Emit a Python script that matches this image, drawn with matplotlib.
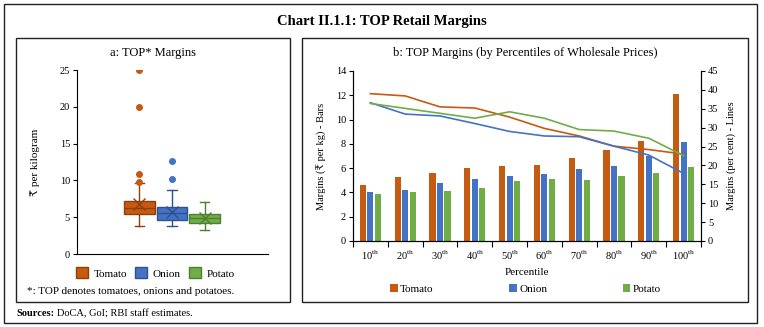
import matplotlib
matplotlib.use("Agg")
from matplotlib import pyplot as plt
from matplotlib.patches import Rectangle, Patch
import numpy as np

plt.rcParams['font.family'] = ['Liberation Serif', 'DejaVu Serif', 'DejaVu Sans']
plt.rcParams['font.size'] = 7.5
plt.rcParams['mathtext.fontset'] = 'custom'
plt.rcParams['mathtext.rm'] = 'Liberation Serif'

crops = ["Tomato", "Onion", "Potato"]
fills = ["#C55A11", "#4472C4", "#70AD47"]
edges = ["#8E3F0B", "#2F528F", "#507E32"]

# panel a: box plot summary (Rs per kg)
box_q1 = [5.5, 4.6, 4.2]
box_med = [6.2, 5.55, 4.85]
box_q3 = [7.2, 6.35, 5.45]
box_lo = [3.85, 3.85, 3.25]
box_hi = [9.6, 8.7, 7.0]
box_mean = [6.8, 5.7, 4.85]
box_out = [[9.8, 10.9, 20.0, 25.0], [10.2, 12.6], []]

# panel b: margins by percentile of wholesale prices
pct = ["10", "20", "30", "40", "50", "60", "70", "80", "90", "100"]
bar_tomato = [4.6, 5.25, 5.57, 6.0, 6.2, 6.23, 6.8, 7.5, 8.24, 12.13]
bar_onion = [4.0, 4.2, 4.8, 5.13, 5.35, 5.5, 5.96, 6.2, 7.0, 8.13]
bar_potato = [3.85, 4.06, 4.15, 4.4, 4.97, 5.08, 5.0, 5.33, 5.63, 6.07]
line_tomato = [39.0, 38.4, 35.5, 35.2, 32.8, 29.8, 27.8, 25.1, 24.2, 23.0]
line_onion = [36.6, 33.6, 33.1, 31.1, 29.0, 27.8, 27.6, 25.1, 22.75, 17.9]
line_potato = [36.4, 35.1, 33.8, 32.5, 34.2, 32.5, 29.5, 29.1, 27.2, 22.6]

W, H = 764, 327
fig = plt.figure(figsize=(W / 100, H / 100), dpi=100)

def fx(x):
    return x / W

def fy(y):
    return 1 - y / H

def frame(x0, y0, x1, y1):
    fig.add_artist(Rectangle((fx(x0), fy(y1)), fx(x1 - x0), (y1 - y0) / H,
                             transform=fig.transFigure, fill=False,
                             edgecolor="#222222", linewidth=1.0))

frame(4, 4, 757, 323)
frame(16, 38, 290, 302)
frame(302, 38, 748, 302)

fig.text(fx(382), fy(21), "Chart II.1.1: TOP Retail Margins", ha="center",
         va="center", fontsize=10.5, fontweight="bold")
fig.text(fx(153), fy(53), "a: TOP* Margins", ha="center", va="center", fontsize=9)
fig.text(fx(525), fy(53), "b: TOP Margins (by Percentiles of Wholesale Prices)",
         ha="center", va="center", fontsize=9)

# ---- panel a
axa = fig.add_axes([fx(77), fy(254), fx(268 - 77), (254 - 70) / H])
stats = []
for i in range(3):
    stats.append(dict(q1=box_q1[i], med=box_med[i], q3=box_q3[i],
                      whislo=box_lo[i], whishi=box_hi[i], mean=box_mean[i],
                      fliers=box_out[i], label=crops[i]))
pos = [-1, 0, 1]
for i in range(3):
    axa.bxp([stats[i]], positions=[pos[i]], widths=0.93, patch_artist=True,
            showmeans=True, meanline=False, capwidths=0.3,
            boxprops=dict(facecolor=fills[i], edgecolor=edges[i], linewidth=1.0),
            medianprops=dict(color=edges[i], linewidth=1.0),
            whiskerprops=dict(color=edges[i], linewidth=1.0),
            capprops=dict(color=edges[i], linewidth=1.0),
            meanprops=dict(marker="x", markeredgecolor=edges[i], markersize=8,
                           markeredgewidth=1.0),
            flierprops=dict(marker="o", markerfacecolor=fills[i],
                            markeredgecolor=fills[i], markersize=4))
axa.set_xlim(-2.92, 2.95)
axa.set_ylim(0, 25)
axa.set_yticks([0, 5, 10, 15, 20, 25])
axa.set_xticks([])
axa.spines[["top", "right"]].set_visible(False)
axa.tick_params(axis="y", direction="out", length=3, width=0.8, pad=2)
axa.set_ylabel("₹ per kilogram", fontsize=8)
axa.yaxis.set_label_coords((40 - 77) / (268 - 77), 0.5)
axa.legend(handles=[Patch(facecolor=fills[i], edgecolor=edges[i], label=crops[i])
                    for i in range(3)],
           loc="center left", bbox_to_anchor=(fx(76), fy(273)),
           bbox_transform=fig.transFigure, ncol=3, frameon=False,
           handlelength=1.1, handleheight=1.1, handletextpad=0.5,
           columnspacing=0.7, borderaxespad=0, borderpad=0, fontsize=8)
fig.text(fx(27), fy(292), "*: TOP denotes tomatoes, onions and potatoes.",
         ha="left", va="center", fontsize=8)
src = fig.text(fx(16), fy(314), "Sources:", ha="left", va="center",
               fontweight="bold", fontsize=7.5)
fig.canvas.draw()
bb = src.get_window_extent()
fig.text(fx(bb.x1 + 3), fy(314), "DoCA, GoI; RBI staff estimates.", ha="left",
         va="center", fontsize=7.5)

# ---- panel b
axb = fig.add_axes([fx(353), fy(241), fx(701 - 353), (241 - 71) / H])
x = np.arange(len(pct))
bw = 0.175
step = 0.215
for k, vals in enumerate([bar_tomato, bar_onion, bar_potato]):
    axb.bar(x + (k - 1) * step, vals, width=bw, color=fills[k], label=crops[k])
axb.set_xlim(-0.5, len(pct) - 0.5)
axb.set_ylim(0, 14)
axb.set_yticks(range(0, 15, 2))
axb.set_xticks(np.arange(-0.5, len(pct), 1.0))
axb.set_xticklabels([])
axb.set_xticks(x, minor=True)
axb.set_xticklabels([p + r"$^{\mathrm{th}}$" for p in pct], minor=True)
axb.tick_params(axis="x", which="major", direction="out", length=4, width=0.8)
axb.tick_params(axis="x", which="minor", length=0, pad=6)
axb.tick_params(axis="y", direction="out", length=3, width=0.8, pad=2)
axb.spines["top"].set_visible(False)
axb.set_ylabel("Margins (₹ per kg) - Bars", labelpad=6)
axb.set_xlabel("Percentile", labelpad=4, fontsize=8)

axr = axb.twinx()
for k, vals in enumerate([line_tomato, line_onion, line_potato]):
    axr.plot(x, vals, color=fills[k], linewidth=1.2)
axr.set_ylim(0, 45)
axr.set_yticks(range(0, 46, 5))
axr.spines["top"].set_visible(False)
axr.tick_params(axis="y", direction="out", length=3, width=0.8, pad=2)
axr.set_ylabel("Margins (per cent) - Lines", labelpad=6)

fig.legend(handles=[Patch(facecolor=fills[i], label=crops[i]) for i in range(3)],
           loc="center left", bbox_to_anchor=(fx(390), fy(289)),
           ncol=3, frameon=False, handlelength=0.7, handleheight=0.7,
           handletextpad=0.2, columnspacing=6.8, borderaxespad=0, borderpad=0,
           fontsize=8)

fig.savefig("out.png", dpi=100)
